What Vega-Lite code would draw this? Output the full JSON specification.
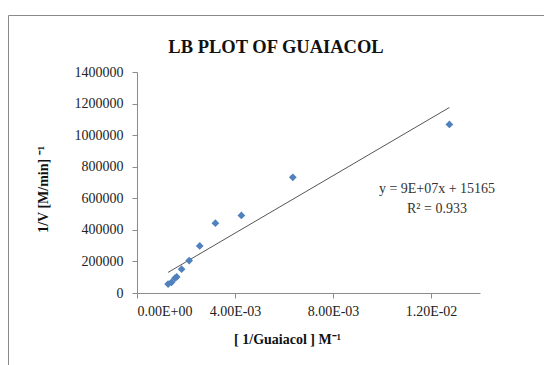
{
  "$schema": "https://vega.github.io/schema/vega-lite/v6.json",
  "width": 536,
  "height": 350,
  "autosize": {"type": "none"},
  "padding": {"left": 8, "top": 15, "right": 0, "bottom": 0},
  "background": "white",
  "config": {
    "view": {"stroke": "#8a8a8a", "strokeWidth": 1, "fill": "white"},
    "font": "Liberation Serif",
    "axis": {
      "grid": false,
      "domainColor": "#8c8c8c",
      "tickColor": "#8c8c8c",
      "tickSize": 5,
      "labelFont": "Liberation Serif",
      "labelFontSize": 14,
      "labelColor": "#222222",
      "titleFont": "Liberation Serif",
      "titleFontSize": 14,
      "titleFontWeight": "bold",
      "titleColor": "#111111"
    }
  },
  "title": {
    "text": "LB PLOT OF GUAIACOL",
    "font": "Liberation Serif",
    "fontSize": 18.5,
    "fontWeight": "bold",
    "color": "#111111",
    "anchor": "middle",
    "offset": -41
  },
  "data": {
    "values": [
      {"inv_guaiacol": 0.00127, "inv_v": 57000},
      {"inv_guaiacol": 0.00141, "inv_v": 68000},
      {"inv_guaiacol": 0.00155, "inv_v": 93500},
      {"inv_guaiacol": 0.00162, "inv_v": 102000},
      {"inv_guaiacol": 0.00182, "inv_v": 150500},
      {"inv_guaiacol": 0.00213, "inv_v": 205500},
      {"inv_guaiacol": 0.00256, "inv_v": 298000},
      {"inv_guaiacol": 0.00320, "inv_v": 442000},
      {"inv_guaiacol": 0.00426, "inv_v": 491000},
      {"inv_guaiacol": 0.00636, "inv_v": 733000},
      {"inv_guaiacol": 0.01275, "inv_v": 1068000}
    ]
  },
  "encoding": {
    "x": {
      "field": "inv_guaiacol",
      "type": "quantitative",
      "scale": {"domain": [0, 0.014], "range": [129, 472], "nice": false, "zero": false},
      "axis": {
        "title": "[ 1/Guaiacol ] M⁻¹",
        "values": [0, 0.004, 0.008, 0.012],
        "offset": -72,
        "labelPadding": 6,
        "titlePadding": 14,
        "titleX": 279,
        "labelExpr": "datum.value == 0 ? '0.00E+00' : format(datum.value / pow(10, floor(log(datum.value) / LN10)), '.2f') + 'E' + (floor(log(datum.value) / LN10) < 0 ? '-' : '+') + pad(abs(floor(log(datum.value) / LN10)) + '', 2, '0', 'left')"
      }
    },
    "y": {
      "field": "inv_v",
      "type": "quantitative",
      "scale": {"domain": [0, 1400000], "range": [278, 57], "nice": false},
      "axis": {
        "title": "1/V [M/min] ⁻¹",
        "values": [0, 200000, 400000, 600000, 800000, 1000000, 1200000, 1400000],
        "format": "d",
        "offset": -129,
        "labelPadding": 9,
        "titlePadding": 24,
        "titleY": 174
      }
    }
  },
  "layer": [
    {
      "transform": [{"regression": "inv_v", "on": "inv_guaiacol"}],
      "mark": {"type": "line", "color": "#555555", "strokeWidth": 1}
    },
    {
      "mark": {"type": "point", "shape": "diamond", "filled": true, "size": 60, "color": "#4F81BD", "opacity": 1}
    },
    {
      "transform": [{"filter": "datum.inv_v == 1068000"}],
      "mark": {
        "type": "text",
        "align": "center",
        "baseline": "alphabetic",
        "font": "Liberation Serif",
        "fontSize": 14,
        "fontWeight": "normal",
        "lineHeight": 20,
        "color": "#333333",
        "text": ["y = 9E+07x + 15165", "R² = 0.933"]
      },
      "encoding": {
        "x": {"datum": 0.012245},
        "y": {"datum": 633500}
      }
    }
  ]
}
